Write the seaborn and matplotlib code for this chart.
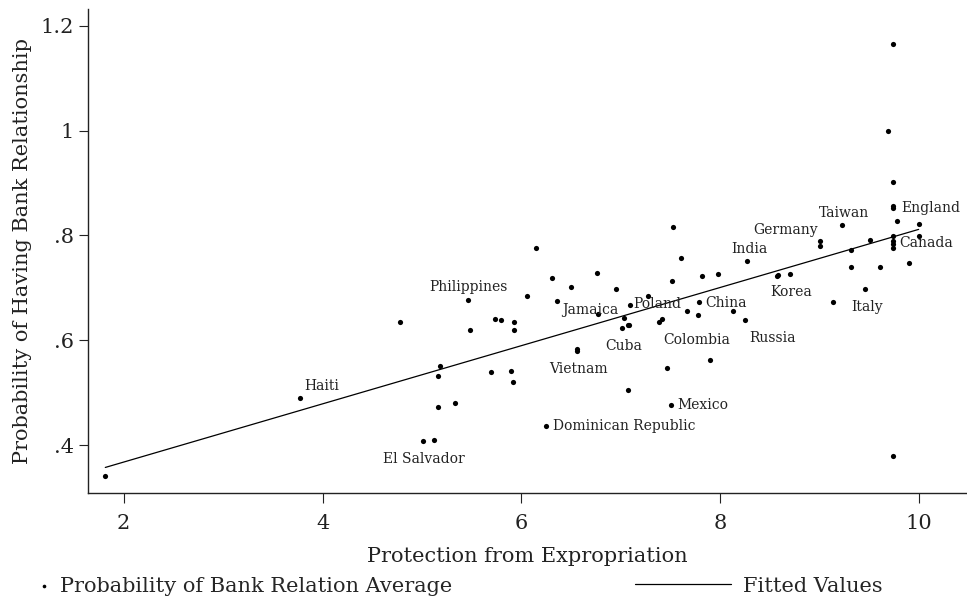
import seaborn as sns
import matplotlib.pyplot as plt
import pandas as pd
import numpy as np

# Protection from expropriation vs. probability of having a bank relationship
protection = [1.816, 3.769, 4.778, 5.012, 5.116, 5.163, 5.163, 5.180, 5.331, 5.461,
              5.487, 5.692, 5.733, 5.796, 5.899, 5.917, 5.930, 5.930, 6.060, 6.151,
              6.245, 6.312, 6.359, 6.496, 6.563, 6.563, 6.758, 6.768, 6.955, 7.012,
              7.029, 7.069, 7.085, 7.069, 7.095, 7.273, 7.384, 7.417, 7.461, 7.508,
              7.518, 7.525, 7.602, 7.662, 7.779, 7.789, 7.816, 7.892, 7.975, 8.125,
              8.248, 8.273, 8.567, 8.583, 8.704, 9.002, 9.002, 9.133, 9.220, 9.310,
              9.313, 9.451, 9.508, 9.608, 9.685, 9.733, 9.733, 9.733, 9.733, 9.733,
              9.733, 9.733, 9.733, 9.733, 9.779, 9.893, 9.994, 9.994]
bank_prob = [0.341, 0.490, 0.635, 0.408, 0.409, 0.472, 0.532, 0.551, 0.481, 0.677,
             0.619, 0.540, 0.640, 0.639, 0.542, 0.521, 0.635, 0.619, 0.685, 0.776,
             0.437, 0.718, 0.675, 0.701, 0.584, 0.580, 0.729, 0.650, 0.698, 0.624,
             0.643, 0.629, 0.629, 0.505, 0.668, 0.685, 0.635, 0.640, 0.547, 0.477,
             0.714, 0.816, 0.756, 0.656, 0.648, 0.673, 0.723, 0.562, 0.727, 0.656,
             0.639, 0.752, 0.722, 0.724, 0.727, 0.790, 0.780, 0.673, 0.820, 0.740,
             0.773, 0.698, 0.791, 0.740, 1.000, 1.165, 0.901, 0.856, 0.852, 0.799,
             0.790, 0.783, 0.776, 0.379, 0.828, 0.747, 0.822, 0.798]
country = ["", "Haiti", "", "El Salvador", "", "", "", "", "", "Philippines",
           "", "", "", "", "", "", "", "", "", "",
           "Dominican Republic", "", "", "", "", "Vietnam", "", "", "", "Cuba",
           "Jamaica", "", "", "", "Poland", "", "Colombia", "", "", "Mexico",
           "", "", "", "", "", "China", "", "", "", "",
           "Russia", "India", "", "", "Korea", "Germany", "", "", "Taiwan", "",
           "", "Italy", "", "", "", "", "", "", "England", "",
           "Canada", "", "", "", "", "", "", ""]

x_ticks = [2, 4, 6, 8, 10]
y_ticks = [0.4, 0.6, 0.8, 1.0, 1.2]
y_tick_labels = [".4", ".6", ".8", "1", "1.2"]

# label placement relative to the marker (pixels, ha)
label_pos = {
    "Haiti": (5, 12, "left"), "El Salvador": (1, -18, "center"),
    "Philippines": (1, 13, "center"), "Dominican Republic": (7, 0, "left"),
    "Vietnam": (1, -18, "center"), "Cuba": (2, -18, "center"),
    "Jamaica": (-5, 8, "right"), "Poland": (3, 1, "left"),
    "Colombia": (4, -18, "left"), "Mexico": (6, 0, "left"),
    "China": (6, -1, "left"), "Russia": (4, -18, "left"),
    "India": (2, 12, "center"), "Korea": (1, -18, "center"),
    "Germany": (-2, 11, "right"), "Italy": (2, -18, "center"),
    "Taiwan": (2, 12, "center"), "England": (9, 0, "left"),
    "Canada": (7, -2, "left"),
}

df = pd.DataFrame({"protection": protection, "bank_prob": bank_prob, "country": country})

# OLS fit
slope, intercept = np.polyfit(df["protection"], df["bank_prob"], 1)
fit = pd.DataFrame({"protection": np.sort(df["protection"].unique())})
fit["fitted"] = intercept + slope * fit["protection"]

sns.set_style("ticks")
plt.rcParams["font.family"] = ["DejaVu Serif"]

fig = plt.figure(figsize=(9.67, 5.98), dpi=100)
ax = fig.add_axes([0.0913, 0.175, 0.9087, 0.81])

sns.scatterplot(data=df, x="protection", y="bank_prob", color="black", s=14,
                linewidth=0, ax=ax, label="Probability of Bank Relation Average", legend=False)
sns.lineplot(data=fit, x="protection", y="fitted", color="black", linewidth=0.9,
             ax=ax, label="Fitted Values", legend=False)

for _, row in df[df["country"] != ""].iterrows():
    dx, dy, ha = label_pos[row["country"]]
    ax.annotate(row["country"], (row["protection"], row["bank_prob"]),
                xytext=(dx, dy), textcoords="offset pixels", ha=ha, va="center",
                fontsize=10, color="#222222")

ax.set_xlim(1.645, 10.48)
ax.set_ylim(0.308, 1.232)
ax.set_xticks(x_ticks)
ax.set_yticks(y_ticks)
ax.set_yticklabels(y_tick_labels)
ax.tick_params(direction="out", length=6.5, width=0.8, labelsize=15, pad=4, colors="#222222")
ax.tick_params(axis="x", length=7, pad=8)
ax.set_xlabel("Protection from Expropriation", fontsize=15, labelpad=10, color="#222222")
ax.set_ylabel("Probability of Having Bank Relationship", fontsize=15, labelpad=6, color="#222222")
sns.despine(ax=ax)
for s in ["left", "bottom"]:
    ax.spines[s].set_linewidth(1.0)
    ax.spines[s].set_color("#222222")

sc = ax.collections[0]
ln = ax.lines[0]
leg1 = fig.legend([sc], ["Probability of Bank Relation Average"], loc="center left",
                  bbox_to_anchor=(0.04, 0.02), frameon=False, fontsize=15,
                  handlelength=0.5, handletextpad=0.5, borderpad=0, borderaxespad=0,
                  markerscale=0.7)
leg2 = fig.legend([ln], ["Fitted Values"], loc="center left",
                  bbox_to_anchor=(635 / 967, 0.02), frameon=False, fontsize=15,
                  handlelength=4.6, handletextpad=0.6, borderpad=0, borderaxespad=0)

plt.savefig("out.png", dpi=100)
